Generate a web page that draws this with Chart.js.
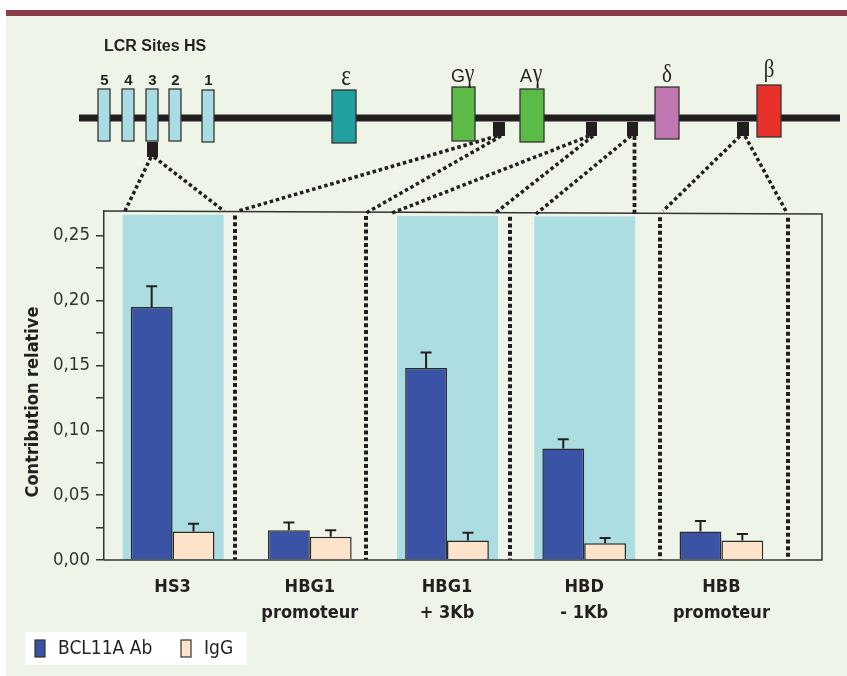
<!DOCTYPE html>
<html><head><meta charset="utf-8">
<script src="https://cdn.jsdelivr.net/npm/chart.js@4.4.1/dist/chart.umd.min.js"></script>
<style>html,body{margin:0;padding:0;background:#fff;overflow:hidden}canvas{display:block}</style>
</head><body>
<canvas id="c" width="847" height="676"></canvas>
<script>
// ---- data ----
const categories = [['HS3'], ['HBG1', 'promoteur'], ['HBG1', '+ 3Kb'], ['HBD', '- 1Kb'], ['HBB', 'promoteur']];
const seriesNames = ['BCL11A Ab', 'IgG'];
const bcl11aValues = [0.195, 0.023, 0.148, 0.086, 0.022];
const bcl11aErrors = [0.016, 0.006, 0.012, 0.007, 0.008];
const iggValues = [0.022, 0.018, 0.015, 0.013, 0.015];
const iggErrors = [0.006, 0.005, 0.006, 0.004, 0.005];
const yTickStep = 0.025;   // minor tick marks
const yLabelStep = 0.05;   // labelled ticks: 0,00 ... 0,25
const yMax = 0.269;
const highlighted = [0, 2, 3]; // categories with shaded band
const lcrSites = ['5', '4', '3', '2', '1'];
const yTitle = 'Contribution relative';
const diagramTitle = 'LCR Sites HS';

// ---- style ----
const FONT = "'DejaVu Sans Condensed','Liberation Sans Narrow','Liberation Sans',sans-serif";
const COL = {bg:'#EEF4E7', maroon:'#8C3B4B', cyan:'#ACDDE1', ink:'#231F20', axis:'#333333',
  blue:'#3A53A4', peach:'#FDE3CA', lcr:'#A9DDE3', teal:'#22A09F', green:'#5BBB46', pink:'#C177B1', red:'#E8312B'};

function topY(x){ return 211 + 3 * (x - 104) / 718; }
function dotted(ctx, x1, y1, x2, y2, w, dash){
  ctx.save(); ctx.strokeStyle = COL.ink; ctx.lineWidth = w; ctx.setLineDash(dash); ctx.lineCap = 'butt';
  ctx.beginPath(); ctx.moveTo(x1, y1); ctx.lineTo(x2, y2); ctx.stroke(); ctx.restore();
}
function box(ctx, x, y, w, h, fill){
  ctx.fillStyle = fill; ctx.fillRect(x, y, w, h);
  ctx.strokeStyle = COL.axis; ctx.lineWidth = 1.3; ctx.strokeRect(x, y, w, h);
}
function stretched(ctx, text, x, y, font, sx, sy, align){
  ctx.save(); ctx.translate(x, y); ctx.scale(sx, sy); ctx.font = font; ctx.textAlign = align || 'left';
  ctx.textBaseline = 'alphabetic'; ctx.fillStyle = COL.ink; ctx.fillText(text, 0, 0); ctx.restore();
}

const decor = {
  id: 'decor',
  beforeDraw(chart){
    const ctx = chart.ctx; ctx.save();
    ctx.fillStyle = '#fff'; ctx.fillRect(0, 0, 847, 676);
    ctx.fillStyle = COL.maroon; ctx.fillRect(6, 10, 841, 6);
    ctx.fillStyle = COL.bg; ctx.fillRect(6, 16, 841, 660);
    ctx.restore();
  },
  beforeDatasetsDraw(chart){
    const ctx = chart.ctx, xs = chart.scales.x, bottom = chart.chartArea.bottom;
    ctx.save(); ctx.fillStyle = COL.cyan;
    highlighted.forEach(i => {
      const cx = xs.getPixelForValue(i), l = cx - 50, r = cx + 51, t = topY(cx) + 3.5;
      ctx.fillRect(l, t, r - l, bottom - t);
    });
    ctx.restore();
    [235, 366, 510, 660, 788].forEach(x => dotted(ctx, x, topY(x) + 4, x, bottom, 4, [4, 2.7]));
  },
  afterDatasetsDraw(chart){
    const ctx = chart.ctx, ys = chart.scales.y;
    ctx.save(); ctx.strokeStyle = COL.ink; ctx.lineWidth = 2;
    chart.data.datasets.forEach((ds, di) => {
      chart.getDatasetMeta(di).data.forEach((el, i) => {
        const yt = ys.getPixelForValue(ds.data[i] + ds.errors[i]);
        ctx.beginPath(); ctx.moveTo(el.x, el.y); ctx.lineTo(el.x, yt);
        ctx.moveTo(el.x - 5.5, yt); ctx.lineTo(el.x + 5.5, yt); ctx.stroke();
      });
    });
    ctx.restore();
  },
  afterDraw(chart){
    const ctx = chart.ctx, ca = chart.chartArea;
    ctx.save();
    // frame
    ctx.strokeStyle = COL.axis; ctx.lineWidth = 1.5;
    ctx.beginPath(); ctx.moveTo(ca.left, topY(ca.left)); ctx.lineTo(822, topY(822));
    ctx.lineTo(822, ca.bottom); ctx.lineTo(ca.left, ca.bottom); ctx.stroke();

    // gene diagram
    ctx.fillStyle = COL.ink; ctx.fillRect(79, 114.5, 761, 7);
    const lcrX = [98, 122, 146, 169, 202];
    lcrX.forEach((x, i) => {
      box(ctx, x, i === 4 ? 90 : 89, 12, 52, COL.lcr);
      ctx.font = "bold 15px 'Liberation Sans', Arial, sans-serif"; ctx.textAlign = 'center';
      ctx.fillStyle = COL.ink; ctx.fillText(lcrSites[i], x + 6.5, 85);
    });
    ctx.font = "bold 16px 'Liberation Sans', Arial, sans-serif"; ctx.textAlign = 'left';
    ctx.fillStyle = COL.ink; ctx.fillText(diagramTitle, 104, 51);
    box(ctx, 332, 90, 24, 53, COL.teal);
    box(ctx, 452, 87, 23, 54, COL.green);
    box(ctx, 520, 89, 24, 53, COL.green);
    box(ctx, 655, 87, 24, 52, COL.pink);
    box(ctx, 757, 85, 24, 52, COL.red);
    // gene labels
    const serif = "21px 'Liberation Serif','DejaVu Serif',serif";
    const sans = "18px 'Liberation Sans Narrow','Liberation Sans',sans-serif";
    stretched(ctx, 'ε', 346, 85, serif, 1.1, 1.4, 'center');
    stretched(ctx, 'G', 451, 82, sans, 1, 1.05, 'left');
    stretched(ctx, 'γ', 465, 82, serif, 1, 1.25, 'left');
    stretched(ctx, 'A', 520, 82, sans, 1, 1.05, 'left');
    stretched(ctx, 'γ', 533, 82, serif, 1, 1.25, 'left');
    stretched(ctx, 'δ', 667, 82, serif, 1, 1.2, 'center');
    stretched(ctx, 'β', 769, 77, serif, 1, 1.2, 'center');
    // site markers
    ctx.fillStyle = COL.ink;
    [[147, 142, 11, 15], [493, 122, 12, 14], [586, 122, 11, 14], [627, 122, 11, 14], [737, 122, 12, 14]]
      .forEach(r => ctx.fillRect(r[0], r[1], r[2], r[3]));
    const dd = [3.5, 2.8];
    dotted(ctx, 151, 157, 125, 211, 3.5, dd); dotted(ctx, 154, 157, 224, 211, 3.5, dd);
    dotted(ctx, 497, 136, 238, 211, 3.5, dd); dotted(ctx, 501, 136, 366, 213, 3.5, dd);
    dotted(ctx, 589, 136, 392, 213, 3.5, dd); dotted(ctx, 593, 136, 494, 214, 3.5, dd);
    dotted(ctx, 631, 136, 536, 214, 3.5, dd); dotted(ctx, 634.5, 136, 634.5, 215, 3.8, [4, 2.7]);
    dotted(ctx, 740, 136, 663, 211, 3.5, dd); dotted(ctx, 745, 136, 787, 213, 3.5, dd);

    // y title
    ctx.save(); ctx.translate(33, 402); ctx.rotate(-Math.PI / 2);
    ctx.font = 'bold 18px ' + FONT; ctx.textAlign = 'center'; ctx.textBaseline = 'middle';
    ctx.fillStyle = COL.ink; ctx.fillText(yTitle, 0, 0); ctx.restore();

    // legend
    ctx.fillStyle = '#fff'; ctx.fillRect(25, 632, 222, 33);
    const lx = [35, 181];
    chart.data.datasets.forEach((ds, i) => {
      ctx.fillStyle = ds.backgroundColor; ctx.fillRect(lx[i], 640, 10, 17);
      ctx.strokeStyle = COL.axis; ctx.lineWidth = 1.2; ctx.strokeRect(lx[i], 640, 10, 17);
      ctx.font = '19px ' + FONT; ctx.fillStyle = COL.ink; ctx.textAlign = 'left'; ctx.textBaseline = 'middle';
      ctx.fillText(ds.label, lx[i] + 23, 649);
    });
    ctx.restore();
  }
};

new Chart(document.getElementById('c'), {
  type: 'bar',
  data: {
    labels: categories,
    datasets: [
      {label: seriesNames[0], data: bcl11aValues, errors: bcl11aErrors, backgroundColor: COL.blue,
       borderColor: '#2B2B2B', borderWidth: 1.5, categoryPercentage: 0.61, barPercentage: 1},
      {label: seriesNames[1], data: iggValues, errors: iggErrors, backgroundColor: COL.peach,
       borderColor: '#2B2B2B', borderWidth: 1.5, categoryPercentage: 0.61, barPercentage: 1}
    ]
  },
  options: {
    responsive: false, animation: false, devicePixelRatio: 1,
    layout: {padding: {left: 0, top: 211, right: 57, bottom: 0}},
    plugins: {legend: {display: false}, tooltip: {enabled: false}},
    scales: {
      x: {
        grid: {display: false}, border: {display: false},
        ticks: {font: {family: FONT, size: 18, weight: 'bold', lineHeight: 1.45}, color: COL.ink,
                padding: 6, maxRotation: 0, autoSkip: false},
        afterFit(s){ s.height = 116; }
      },
      y: {
        min: 0, max: yMax,
        grid: {display: true, drawOnChartArea: false, drawTicks: true, tickLength: 8, color: COL.axis, lineWidth: 1.5},
        border: {display: true, color: COL.axis, width: 1.5},
        ticks: {stepSize: yTickStep, includeBounds: false, autoSkip: false, padding: 6,
                font: {family: FONT, size: 18.5}, color: '#333',
                callback: v => {
                  const k = Math.round(v / yTickStep), r = Math.round(yLabelStep / yTickStep);
                  return k % r === 0 ? v.toFixed(2).replace('.', ',') : '';
                }},
        afterFit(s){ s.width = 104; }
      }
    }
  },
  plugins: [decor]
});
</script>
</body></html>
